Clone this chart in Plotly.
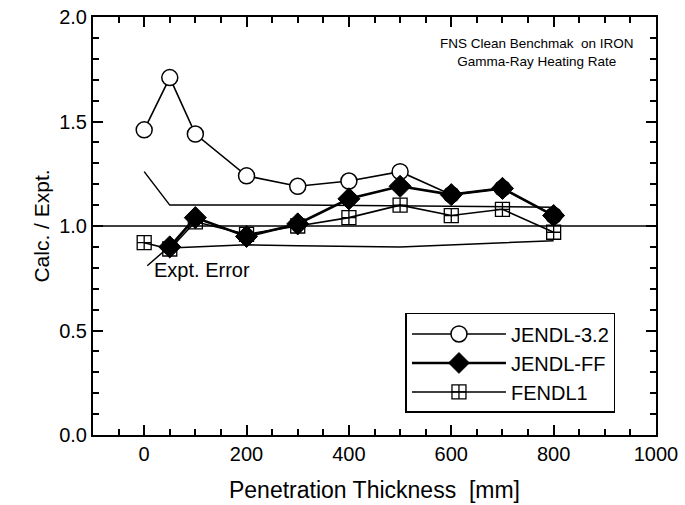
import plotly.graph_objects as go

# Penetration depths [mm] and calculation/experiment ratios
depth = [0, 50, 100, 200, 300, 400, 500, 600, 700, 800]
jendl32 = [1.46, 1.71, 1.44, 1.24, 1.19, 1.215, 1.26, 1.15, 1.18, 1.05]
depth_ff = [50, 100, 200, 300, 400, 500, 600, 700, 800]
jendl_ff = [0.90, 1.04, 0.95, 1.01, 1.13, 1.19, 1.15, 1.18, 1.05]
fendl1 = [0.92, 0.89, 1.02, 0.96, 1.00, 1.04, 1.10, 1.05, 1.08, 0.97]

# Experimental error band (upper / lower bounds)
err_up_x = [0, 50, 300, 800]
err_up_y = [1.26, 1.10, 1.10, 1.09]
err_lo_x = [50, 200, 300, 500, 800]
err_lo_y = [0.895, 0.91, 0.905, 0.90, 0.93]

FONT = "Liberation Sans, Arial, Helvetica, sans-serif"

fig = go.Figure()

fig.add_trace(go.Scatter(x=err_up_x, y=err_up_y, mode="lines",
                         line=dict(color="black", width=1.5), showlegend=False,
                         hoverinfo="skip"))
fig.add_trace(go.Scatter(x=err_lo_x, y=err_lo_y, mode="lines",
                         line=dict(color="black", width=1.5), showlegend=False,
                         hoverinfo="skip"))

fig.add_trace(go.Scatter(
    x=depth, y=jendl32, name="JENDL-3.2", mode="lines+markers",
    line=dict(color="black", width=1.6),
    marker=dict(symbol="circle", size=16, color="white",
                line=dict(color="black", width=1.5))))
fig.add_trace(go.Scatter(
    x=depth_ff, y=jendl_ff, name="JENDL-FF", mode="lines+markers",
    line=dict(color="black", width=2.6),
    marker=dict(symbol="diamond", size=17, color="black",
                line=dict(color="black", width=1))))
fig.add_trace(go.Scatter(
    x=depth, y=fendl1, name="FENDL1", mode="lines+markers",
    line=dict(color="black", width=1.6),
    marker=dict(symbol="square-cross-open", size=14, color="black",
                line=dict(color="black", width=1.3))))

# Unity reference line
fig.add_shape(type="line", xref="paper", yref="y", x0=0, x1=1, y0=1, y1=1,
              line=dict(color="black", width=1.6))

# Pointer to the error band
fig.add_shape(type="line", xref="x", yref="y", x0=6, y0=0.81, x1=46, y1=0.895,
              line=dict(color="black", width=1.5))
fig.add_annotation(x=15, y=0.79, xref="x", yref="y", text="Expt. Error",
                   showarrow=False, xanchor="left", yanchor="middle",
                   font=dict(size=20, color="black", family=FONT))

fig.add_annotation(x=0.789, y=0.915, xref="paper", yref="paper",
                   text="FNS Clean Benchmak  on IRON<br>Gamma-Ray Heating Rate",
                   showarrow=False, align="center", xanchor="center",
                   yanchor="middle",
                   font=dict(size=13.5, color="black", family=FONT))

common = dict(showline=True, linecolor="black", linewidth=2,
              mirror="allticks", showgrid=False, zeroline=False,
              automargin=False,
              tickfont=dict(size=20, color="black", family=FONT))

fig.update_xaxes(range=[-100, 1000], tickmode="linear", tick0=0, dtick=200,
                 ticks="inside", ticklen=10, tickwidth=2, tickcolor="black",
                 minor=dict(dtick=50, ticks="inside", ticklen=6,
                            tickwidth=1.5, tickcolor="black"),
                 title=dict(text="Penetration Thickness  [mm]", standoff=18,
                            font=dict(size=23, color="black", family=FONT)),
                 **common)
fig.update_yaxes(range=[0, 2], tickmode="linear", tick0=0, dtick=0.5,
                 tickformat=".1f",
                 ticks="inside", ticklen=10, tickwidth=2, tickcolor="black",
                 minor=dict(dtick=0.1, ticks="inside", ticklen=6,
                            tickwidth=1.5, tickcolor="black"),
                 title=dict(text="Calc. / Expt.", standoff=4,
                            font=dict(size=21, color="black", family=FONT)),
                 **common)

fig.update_layout(
    width=685, height=505,
    margin=dict(l=93, r=29, t=17, b=70),
    paper_bgcolor="white", plot_bgcolor="rgba(0,0,0,0)",
    font=dict(family=FONT, color="black"),
    legend=dict(x=0.555, y=0.292, xanchor="left", yanchor="top",
                bgcolor="white", bordercolor="black", borderwidth=1.5,
                font=dict(size=20, color="black", family=FONT),
                itemwidth=94, tracegroupgap=0),
)

fig.write_html("out.html")
